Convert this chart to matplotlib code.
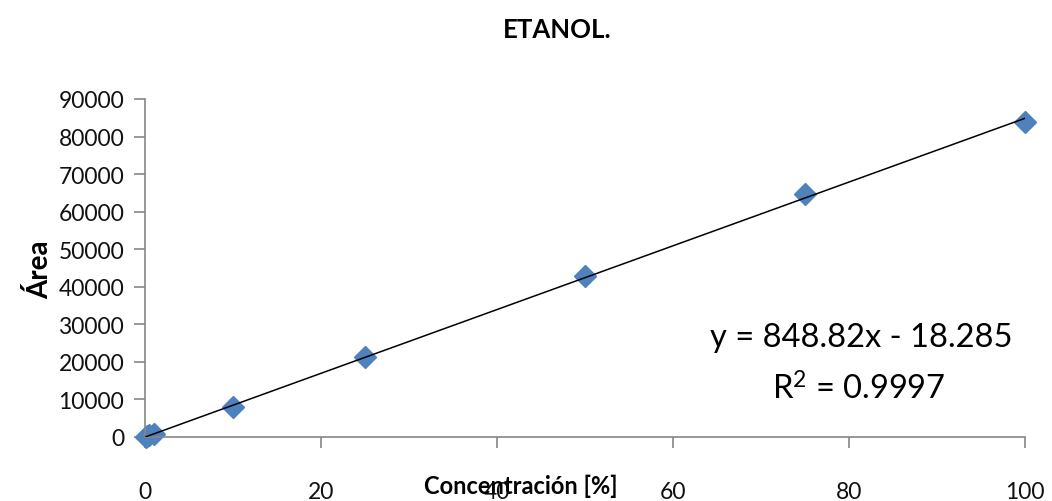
import matplotlib
matplotlib.use("Agg")
import matplotlib.pyplot as plt
import numpy as np

plt.rcParams['font.family'] = ['Lato', 'DejaVu Sans']
plt.rcParams['mathtext.fontset'] = 'custom'
plt.rcParams['mathtext.rm'] = 'Lato'
plt.rcParams['mathtext.it'] = 'Lato'
plt.rcParams['mathtext.default'] = 'rm'

concentracion = [0.1, 0.25, 0.5, 1, 10, 25, 50, 75, 100]
area = [70, 200, 420, 830, 8100, 21200, 42900, 64600, 84000]
slope = 848.82
intercept = -18.285
x_ticks = [0, 20, 40, 60, 80, 100]
y_ticks = [0, 10000, 20000, 30000, 40000, 50000, 60000, 70000, 80000, 90000]

fig = plt.figure(figsize=(10.52, 5.02), dpi=100)
ax = fig.add_axes([145/1052, 1-438/502, 880/1052, 338/502])

xl = np.array([0, 100])
ax.plot(xl, slope*xl + intercept, color='black', lw=1.1, zorder=3)
ax.plot(concentracion, area, linestyle='none', marker='D', markersize=11,
        color='#4F81BD', markeredgecolor='#4F81BD', zorder=2, clip_on=False)

ax.set_xlim(0, 100)
ax.set_ylim(0, 90000)
ax.set_xticks(x_ticks)
ax.set_yticks(y_ticks)
ax.set_xticklabels([str(v) for v in x_ticks])
ax.set_yticklabels([str(v) for v in y_ticks])
for s in ['top', 'right']:
    ax.spines[s].set_visible(False)
for s in ['left', 'bottom']:
    ax.spines[s].set_color('#868686')
    ax.spines[s].set_linewidth(1.2)
ax.tick_params(axis='both', direction='out', length=8, width=1.2, color='#868686',
               labelsize=16.5, labelcolor='#111111')
ax.tick_params(axis='x', pad=24)
ax.tick_params(axis='y', pad=7)

fig.text(557/1052, 1-30/502, 'ETANOL.', ha='center', va='center', fontsize=18.5, fontweight='bold')
fig.text(40/1052, 1-270/502, 'Área', ha='center', va='center', rotation=90, fontsize=20, fontweight='bold')
fig.text(521/1052, 1-486/502, 'Concentración [%]', ha='center', va='center', fontsize=17, fontweight='bold')

ax.text(861/1052, 1-338/502, 'y = 848.82x - 18.285', transform=fig.transFigure,
        ha='center', va='center', fontsize=23.5)
ax.text(859/1052, 1-389/502, 'R$^{2}$ = 0.9997', transform=fig.transFigure,
        ha='center', va='center', fontsize=23.5)

fig.savefig('out.png', dpi=100)
